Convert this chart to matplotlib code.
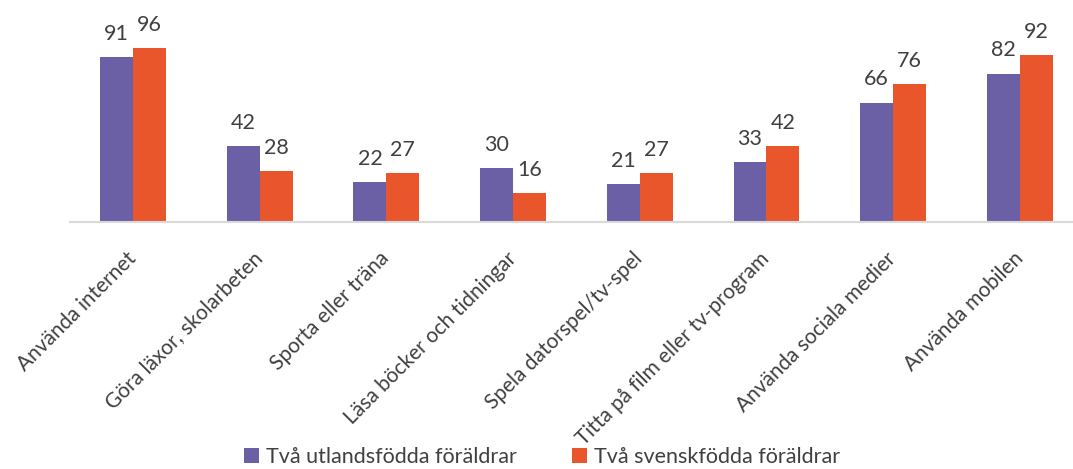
import matplotlib
matplotlib.use("Agg")
import matplotlib.pyplot as plt
import numpy as np

categories = ["Använda internet", "Göra läxor, skolarbeten", "Sporta eller träna",
              "Läsa böcker och tidningar", "Spela datorspel/tv-spel",
              "Titta på film eller tv-program", "Använda sociala medier", "Använda mobilen"]
series_names = ["Två utlandsfödda föräldrar", "Två svenskfödda föräldrar"]
utlandsfodda = [91, 42, 22, 30, 21, 33, 66, 82]
svenskfodda = [96, 28, 27, 16, 27, 42, 76, 92]

purple = "#6B5FA5"
orange = "#E9562B"
textc = "#404040"

plt.rcParams['font.family'] = ['Lato', 'DejaVu Sans']

W, H = 1073, 469
fig = plt.figure(figsize=(W/100, H/100), dpi=100)
ax = fig.add_axes([69.6/W, (H-222)/H, 1013.6/W, 181/H])

x = np.arange(len(categories))
bw = 0.26
b1 = ax.bar(x - bw/2, utlandsfodda, bw, color=purple, label=series_names[0])
b2 = ax.bar(x + bw/2, svenskfodda, bw, color=orange, label=series_names[1])

for bars in (b1, b2):
    for r in bars:
        ax.annotate(f"{int(r.get_height())}", (r.get_x() + r.get_width()/2, r.get_height()),
                    xytext=(0, 9.5), textcoords="offset points", ha="center", va="bottom",
                    fontsize=15.5, color=textc, annotation_clip=False)

ax.set_xlim(-0.5, len(categories) - 0.5)
ax.set_ylim(0, 100)
for s in ["top", "right", "left"]:
    ax.spines[s].set_visible(False)
ax.spines["bottom"].set_color("#D9D9D9")
ax.spines["bottom"].set_linewidth(1.5)
ax.set_yticks([])
ax.set_xticks(x)
ax.set_xticklabels(categories, rotation=45, ha="right", va="center",
                   rotation_mode="anchor", fontsize=15, color=textc)
ax.tick_params(axis="x", length=0, pad=24)

fig.legend(handles=[b1, b2], labels=series_names, loc="center",
           bbox_to_anchor=(542/W, 1 - 457/H), ncol=2, frameon=False,
           fontsize=15.5, handlelength=0.7, handleheight=0.7, handletextpad=0.3,
           columnspacing=2.6, labelcolor=textc)

fig.savefig("out.png", dpi=100)
